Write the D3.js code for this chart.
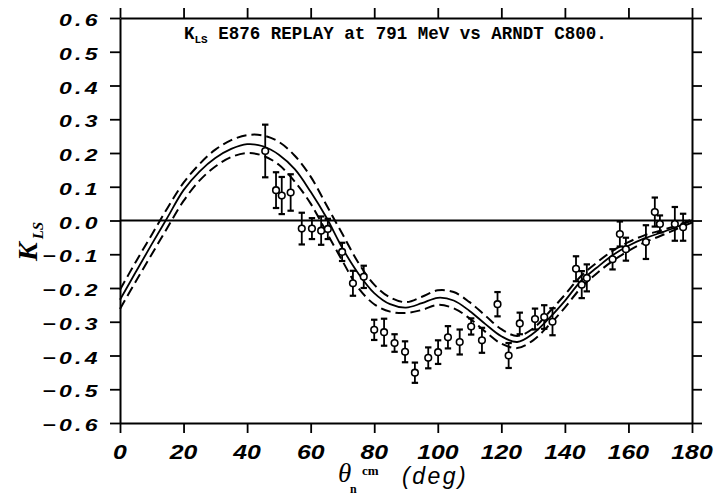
<!DOCTYPE html>
<html>
<head>
<meta charset="utf-8">
<script src="https://cdn.jsdelivr.net/npm/d3@7"></script>
<style>
  body { margin: 0; background: #fff; }
  svg { display: block; }
</style>
</head>
<body>
<div id="chart"></div>
<script>
// measured points (theta in deg, K_LS, error)
const theta = [45.7, 49.1, 50.9, 53.7, 57.2, 60.4, 63.3, 65.4, 69.9, 73.3, 76.7, 80.0, 83.1, 86.4, 89.7,
  92.8, 97.0, 100.1, 103.2, 106.9, 110.5, 113.9, 118.8, 122.3, 125.8, 130.6, 133.5, 136.1,
  143.5, 145.3, 146.9, 155.0, 157.3, 159.2, 165.5, 168.3, 169.9, 174.6, 177.2];
const kls = [0.206, 0.090, 0.074, 0.083, -0.024, -0.024, -0.030, -0.025, -0.093, -0.186, -0.167, -0.324, -0.331, -0.363, -0.389,
  -0.451, -0.407, -0.390, -0.346, -0.360, -0.314, -0.355, -0.248, -0.400, -0.305, -0.292, -0.286, -0.300,
  -0.143, -0.190, -0.170, -0.115, -0.040, -0.085, -0.064, 0.025, -0.010, -0.010, -0.020];
const klsErr = [0.078, 0.053, 0.055, 0.054, 0.047, 0.031, 0.042, 0.030, 0.027, 0.037, 0.033, 0.030, 0.040, 0.026, 0.031,
  0.030, 0.031, 0.035, 0.033, 0.037, 0.024, 0.037, 0.036, 0.037, 0.032, 0.031, 0.035, 0.040,
  0.037, 0.040, 0.040, 0.030, 0.037, 0.034, 0.050, 0.043, 0.025, 0.050, 0.040];

// ARNDT C800 prediction and its band
const curveTheta = [0, 5, 10, 15, 20, 25, 30, 35, 40, 45, 50, 55, 60, 65, 70, 75, 80, 85, 90,
  95, 100, 105, 110, 115, 120, 125, 130, 135, 140, 145, 150, 155, 160, 165, 170, 175, 180];
const c800 = [-0.235, -0.152, -0.07, 0.01, 0.09, 0.145, 0.185, 0.212, 0.226, 0.22, 0.195, 0.152, 0.085, 0.008, -0.082,
  -0.157, -0.215, -0.248, -0.258, -0.245, -0.229, -0.237, -0.268, -0.307, -0.343, -0.36, -0.335, -0.29,
  -0.238, -0.18, -0.14, -0.103, -0.075, -0.053, -0.037, -0.02, 0.0];
const c800Upper = [-0.205, -0.122, -0.042, 0.038, 0.112, 0.167, 0.21, 0.238, 0.253, 0.252, 0.233, 0.192, 0.13, 0.045, -0.04,
  -0.125, -0.19, -0.228, -0.242, -0.226, -0.207, -0.212, -0.242, -0.282, -0.322, -0.342, -0.32, -0.272,
  -0.22, -0.165, -0.125, -0.09, -0.064, -0.044, -0.03, -0.015, 0.003];
const c800Lower = [-0.262, -0.18, -0.1, -0.02, 0.058, 0.118, 0.16, 0.188, 0.2, 0.192, 0.165, 0.115, 0.05, -0.035, -0.12,
  -0.2, -0.248, -0.27, -0.274, -0.265, -0.25, -0.26, -0.29, -0.33, -0.365, -0.378, -0.355, -0.31,
  -0.258, -0.2, -0.157, -0.12, -0.09, -0.065, -0.046, -0.026, -0.006];

const xTicks = [0, 20, 40, 60, 80, 100, 120, 140, 160, 180];
const xTickLabels = ["0", "20", "40", "60", "80", "100", "120", "140", "160", "180"];
const yTicks = [0.6, 0.5, 0.4, 0.3, 0.2, 0.1, 0.0, -0.1, -0.2, -0.3, -0.4, -0.5, -0.6];
const yTickLabels = ["0.6", "0.5", "0.4", "0.3", "0.2", "0.1", "0.0", "\u22120.1", "\u22120.2", "\u22120.3", "\u22120.4", "\u22120.5", "\u22120.6"];

const W = 715, H = 495;
const margin = { top: 18, right: 23, bottom: 72, left: 120 };
const width = W - margin.left - margin.right,
      height = H - margin.top - margin.bottom;

const svg = d3.select("#chart").append("svg")
    .attr("width", W)
    .attr("height", H);

const g = svg.append("g")
    .attr("transform", `translate(${margin.left},${margin.top})`);

const x = d3.scaleLinear().domain([0, 180]).range([0, width]);
const y = d3.scaleLinear().domain([-0.6, 0.6]).range([height, 0]);

// axes, ticks pointing outward on all four sides
const tickLen = 10;
g.append("g").attr("transform", `translate(0,${height})`)
    .call(d3.axisBottom(x).tickValues(xTicks).tickSize(tickLen).tickSizeOuter(0).tickFormat(""));
g.append("g")
    .call(d3.axisTop(x).tickValues(xTicks).tickSize(tickLen).tickSizeOuter(0).tickFormat(""));
g.append("g")
    .call(d3.axisLeft(y).tickValues(yTicks).tickSize(tickLen).tickSizeOuter(0).tickFormat(""));
g.append("g").attr("transform", `translate(${width},0)`)
    .call(d3.axisRight(y).tickValues(yTicks).tickSize(tickLen).tickSizeOuter(0).tickFormat(""));
g.selectAll(".domain").attr("stroke", "#000").attr("stroke-width", 2);
g.selectAll(".tick line").attr("stroke", "#000").attr("stroke-width", 1.8);

// tick labels
g.selectAll(".xlab")
    .data(xTicks)
    .enter().append("text")
    .attr("transform", d => `translate(${x(d)},${height + 36}) scale(1.18,1)`)
    .attr("text-anchor", "middle")
    .style("font", "italic bold 21px 'Liberation Sans', Arial, sans-serif")
    .text((d, i) => xTickLabels[i]);

g.selectAll(".ylab")
    .data(yTicks)
    .enter().append("text")
    .attr("transform", d => `translate(${-19},${y(d) + 8}) scale(1.35,1)`)
    .attr("text-anchor", "end")
    .style("font", "italic bold 17px 'Liberation Sans', Arial, sans-serif")
    .style("letter-spacing", "2.5px")
    .text((d, i) => yTickLabels[i]);

// zero line
g.append("line")
    .attr("x1", x(0)).attr("x2", x(180))
    .attr("y1", y(0)).attr("y2", y(0))
    .attr("stroke", "#000").attr("stroke-width", 2);

// curves
const line = d3.line()
    .x((d, i) => x(curveTheta[i]))
    .y(d => y(d))
    .curve(d3.curveCatmullRom.alpha(0.5));

g.append("path").datum(c800)
    .attr("fill", "none").attr("stroke", "#000").attr("stroke-width", 1.8)
    .attr("d", line);
[c800Upper, c800Lower].forEach(arr => {
    g.append("path").datum(arr)
        .attr("fill", "none").attr("stroke", "#000").attr("stroke-width", 2)
        .attr("stroke-dasharray", "10,5")
        .attr("d", line);
});

// data points with error bars
const pts = theta.map((t, i) => ({ t: t, v: kls[i], e: klsErr[i] }));
const pg = g.selectAll(".pt").data(pts).enter().append("g");
pg.append("line")
    .attr("x1", d => x(d.t)).attr("x2", d => x(d.t))
    .attr("y1", d => y(d.v - d.e)).attr("y2", d => y(d.v + d.e))
    .attr("stroke", "#000").attr("stroke-width", 1.8);
[-1, 1].forEach(s => {
    pg.append("line")
        .attr("x1", d => x(d.t) - 3.2).attr("x2", d => x(d.t) + 3.2)
        .attr("y1", d => y(d.v + s * d.e)).attr("y2", d => y(d.v + s * d.e))
        .attr("stroke", "#000").attr("stroke-width", 2.2);
});
pg.append("circle")
    .attr("cx", d => x(d.t)).attr("cy", d => y(d.v))
    .attr("r", 3.3)
    .attr("fill", "#fff").attr("stroke", "#000").attr("stroke-width", 1.6);

// title inside plot
const title = svg.append("text")
    .attr("x", 184).attr("y", 39)
    .style("font", "bold 17.5px 'Liberation Mono', 'Courier New', monospace");
title.append("tspan").text("K");
title.append("tspan").attr("dy", 4).style("font-size", "11px").text("LS");
title.append("tspan").attr("dy", -4).text(" E876 REPLAY at 791 MeV vs ARNDT C800.");

// x axis title
const xt = svg.append("g");
xt.append("text").attr("x", 338).attr("y", 482)
    .style("font", "italic 27px 'Liberation Serif', 'Times New Roman', serif").text("\u03b8");
xt.append("text").attr("x", 350).attr("y", 493)
    .style("font", "bold 12px 'Liberation Serif', serif").text("n");
xt.append("text").attr("x", 362).attr("y", 475)
    .style("font", "bold 13px 'Liberation Serif', serif").text("cm");
xt.append("text").attr("x", 402).attr("y", 484)
    .style("font", "italic 23px 'Liberation Sans', Arial, sans-serif")
    .style("letter-spacing", "2.5px").text("(deg)");

// y axis title
const yt = svg.append("text")
    .attr("transform", "translate(37,261) rotate(-90)")
    .style("font", "italic bold 28px 'Liberation Serif', 'Times New Roman', serif");
yt.append("tspan").text("K");
yt.append("tspan").attr("dx", 3).attr("dy", 6)
    .style("font", "italic bold 15px 'Liberation Serif', serif").text("LS");
</script>
</body>
</html>
